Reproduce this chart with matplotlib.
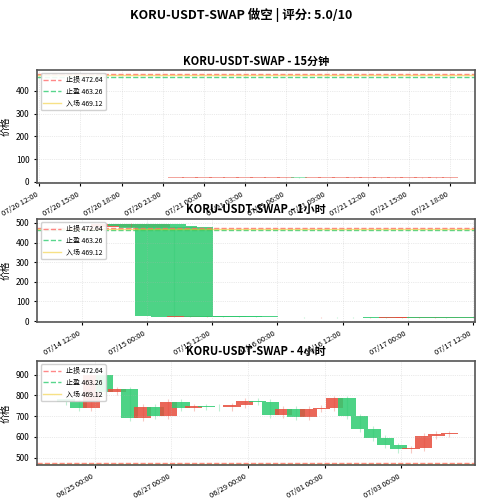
import matplotlib
matplotlib.use("Agg")
import matplotlib.pyplot as plt
import matplotlib.dates as mdates
import numpy as np
import pandas as pd

plt.rcParams['font.family'] = ['Noto Sans CJK SC', 'DejaVu Sans']
plt.rcParams['axes.unicode_minus'] = False

title = "KORU-USDT-SWAP 做空 | 评分: 5.0/10"
stop_loss = 472.64
take_profit = 463.26
entry = 469.12

# 15m chart (hourly sampled)
t15 = pd.date_range("2025-07-20 14:00", periods=29, freq="1h")
o15 = [16,16,16,16,16,16,16,16,17,17,17,17,17,17,17,17,17,18,17,17,17,17,18,18,18,18,18,18,19]
c15 = [16,16,16,16,16,16,16,17,17,17,17,17,17,17,17,17,18,17,17,17,17,18,18,18,18,18,18,19,19]
h15 = [18,18,18,18,18,18,18,19,19,19,19,19,19,19,19,19,20,20,19,19,19,20,20,20,20,20,20,21,21]
l15 = [15,15,15,15,15,15,15,15,16,16,16,16,16,16,16,16,16,16,16,16,16,16,17,17,17,17,17,17,18]

# 1h chart
t1h = pd.to_datetime(["2025-07-14 21:00","2025-07-15 00:00","2025-07-15 02:00","2025-07-15 05:00",
                      "2025-07-15 08:00","2025-07-15 11:00","2025-07-15 14:00","2025-07-15 17:00",
                      "2025-07-15 20:00","2025-07-15 23:00","2025-07-16 02:00","2025-07-16 05:00",
                      "2025-07-16 08:00","2025-07-16 11:00","2025-07-16 14:00","2025-07-16 17:00",
                      "2025-07-16 20:00","2025-07-16 23:00","2025-07-17 02:00","2025-07-17 05:00",
                      "2025-07-17 07:00"])
o1h = [478,497,485,480,24,22,24,23,22,21,20,21,19,20,19,18,19,18,17,17,18]
c1h = [495,482,475,24,22,24,23,22,21,20,21,19,20,19,18,19,18,17,17,18,17]
h1h = [498,499,490,482,26,26,26,25,24,23,23,23,22,22,21,21,21,20,19,20,20]
l1h = [470,478,470,20,19,20,20,19,19,18,18,17,17,17,16,16,16,15,15,15,15]

# 4h chart (8h sampled)
t4h = pd.date_range("2025-06-24 06:00", periods=31, freq="8h")
c4h = [770,740,900,815,830,690,745,700,770,740,748,745,742,752,775,770,705,735,695,735,740,785,
       700,640,595,560,540,545,605,615,618]
o4h = [780] + c4h[:-1]

UP, DN = '#e74c3c', '#2ecc71'

def candles(ax, t, o, c, h, l, width, alpha=0.85, minh=0.3):
    x = mdates.date2num(t)
    for xi, oi, ci, hi, li in zip(x, o, c, h, l):
        col = UP if ci >= oi else DN
        ax.vlines(xi, li, hi, color=col, lw=0.8, alpha=0.3)
        ax.bar(xi, max(abs(ci - oi), minh), bottom=min(oi, ci), width=width,
               color=col, alpha=alpha, edgecolor=col, linewidth=0)

def style(ax, sub, ylim):
    ax.axhline(stop_loss, color='#ff6b6b', ls='--', lw=1, alpha=0.8, label=f'止损 {stop_loss}')
    ax.axhline(take_profit, color='#2ecc71', ls='--', lw=1, alpha=0.8, label=f'止盈 {take_profit}')
    ax.axhline(entry, color='#f1c40f', ls='-', lw=1, alpha=0.5, label=f'入场 {entry}')
    ax.set_title(sub, fontsize=8, fontweight='bold', pad=4)
    ax.set_ylabel('价格', fontsize=7)
    ax.set_ylim(*ylim)
    ax.grid(True, ls=':', lw=0.5, alpha=0.5)
    ax.tick_params(labelsize=6, length=2)
    ax.xaxis.set_major_formatter(mdates.DateFormatter('%m/%d %H:%M'))
    for lab in ax.get_xticklabels():
        lab.set_rotation(30); lab.set_ha('right'); lab.set_fontsize(5.5)
    for s in ax.spines.values():
        s.set_color('#555555'); s.set_linewidth(1.2)
    ax.legend(loc='upper left', fontsize=5, framealpha=0.9, handlelength=2.5)

def ts(s):
    return mdates.date2num(pd.Timestamp(s))

fig = plt.figure(figsize=(4.83, 5), dpi=100)
fig.suptitle(title, fontsize=9, fontweight='bold', y=0.985)

ax1 = fig.add_axes([0.077, 0.634, 0.906, 0.226])
candles(ax1, t15, o15, c15, h15, l15, 0.05, alpha=0.5, minh=3)
ax1.xaxis.set_major_locator(mdates.HourLocator(interval=3))
ax1.set_xlim(ts("2025-07-20 11:50"), ts("2025-07-21 19:50"))
style(ax1, 'KORU-USDT-SWAP - 15分钟', (-5, 492))

ax2 = fig.add_axes([0.077, 0.356, 0.906, 0.206])
candles(ax2, t1h, o1h, c1h, h1h, l1h, 0.6, minh=2)
ax2.xaxis.set_major_locator(mdates.HourLocator(byhour=[0, 12]))
ax2.set_xlim(ts("2025-07-14 03:50"), ts("2025-07-17 12:20"))
style(ax2, 'KORU-USDT-SWAP - 1小时', (-5, 520))

ax3 = fig.add_axes([0.077, 0.07, 0.906, 0.208])
candles(ax3, t4h, o4h, c4h, [max(a, b) + 12 for a, b in zip(o4h, c4h)],
        [min(a, b) - 15 for a, b in zip(o4h, c4h)], 0.45)
ax3.xaxis.set_major_locator(mdates.DayLocator(bymonthday=[25, 27, 29, 1, 3]))
ax3.set_xlim(ts("2025-06-23 12:00"), ts("2025-07-04 22:00"))
style(ax3, 'KORU-USDT-SWAP - 4小时', (465, 965))

fig.savefig('out.png', dpi=100)
